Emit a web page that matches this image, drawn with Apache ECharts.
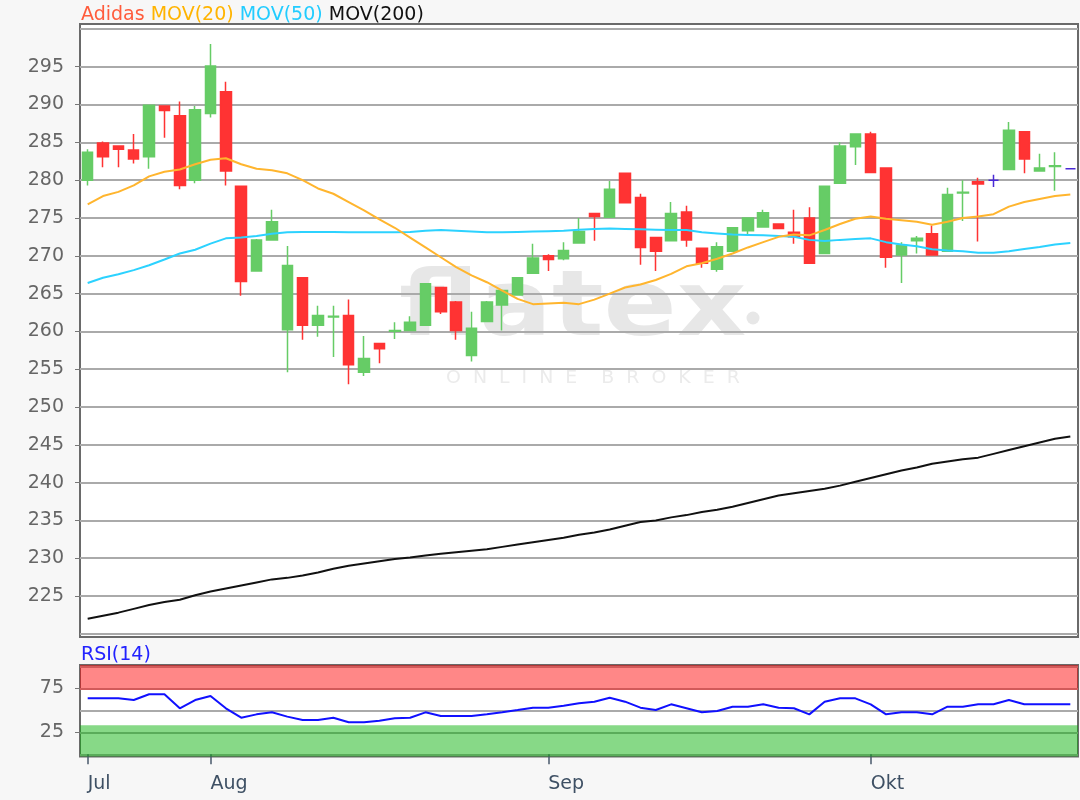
<!DOCTYPE html>
<html>
<head>
<meta charset="utf-8">
<title>Adidas</title>
<script src="https://cdn.jsdelivr.net/npm/echarts@6/dist/echarts.min.js"></script>
<style>
  html, body { margin: 0; padding: 0; background: #f7f7f7; }
  #chart { width: 1080px; height: 800px; }
</style>
</head>
<body>
<div id="chart"></div>
<script>
// trading days, 22 Jul - 18 Oct 2019
const dates = [
  '2019-07-22', '2019-07-23', '2019-07-24', '2019-07-25', '2019-07-26', '2019-07-29', '2019-07-30', '2019-07-31',
  '2019-08-01', '2019-08-02', '2019-08-05', '2019-08-06', '2019-08-07', '2019-08-08', '2019-08-09', '2019-08-12',
  '2019-08-13', '2019-08-14', '2019-08-15', '2019-08-16', '2019-08-19', '2019-08-20', '2019-08-21', '2019-08-22',
  '2019-08-23', '2019-08-26', '2019-08-27', '2019-08-28', '2019-08-29', '2019-08-30',
  '2019-09-02', '2019-09-03', '2019-09-04', '2019-09-05', '2019-09-06', '2019-09-09', '2019-09-10', '2019-09-11',
  '2019-09-12', '2019-09-13', '2019-09-16', '2019-09-17', '2019-09-18', '2019-09-19', '2019-09-20', '2019-09-23',
  '2019-09-24', '2019-09-25', '2019-09-26', '2019-09-27', '2019-09-30',
  '2019-10-01', '2019-10-02', '2019-10-03', '2019-10-04', '2019-10-07', '2019-10-08', '2019-10-09', '2019-10-10',
  '2019-10-11', '2019-10-14', '2019-10-15', '2019-10-16', '2019-10-17', '2019-10-18'
]

const opens = [
  280.0, 284.9, 284.5, 284.0, 283.1, 289.8, 288.5, 280.0, 288.8, 291.7,
  279.2, 268.0, 272.1, 260.2, 267.1, 260.8, 261.9, 262.1, 254.6, 258.4,
  260.0, 260.1, 260.8, 265.8, 263.9, 256.8, 261.3, 263.5, 264.8, 267.7,
  270.0, 269.6, 271.7, 275.6, 275.1, 280.9, 277.7, 272.4, 272.0, 275.8,
  271.0, 268.2, 270.6, 273.3, 273.8, 274.2, 273.1, 275.0, 270.3, 279.6,
  284.4, 286.1, 281.6, 270.1, 272.0, 272.9, 270.6, 278.3, 279.8, 280.0,
  281.4, 286.4, 281.2, 281.8, 281.5
]
const closes = [
  283.7, 283.1, 284.1, 282.8, 289.9, 289.2, 279.3, 289.3, 295.1, 281.2,
  266.6, 272.1, 274.5, 268.7, 260.8, 262.1, 262.0, 255.6, 256.4, 257.7,
  260.1, 261.2, 266.3, 262.6, 260.1, 260.4, 263.9, 265.4, 267.1, 269.7,
  269.5, 270.7, 273.2, 275.2, 278.8, 277.0, 271.1, 270.6, 275.6, 272.1,
  269.0, 271.2, 273.7, 275.0, 275.7, 273.6, 272.5, 269.0, 279.2, 284.5,
  286.1, 281.0, 269.8, 271.4, 272.3, 270.1, 278.1, 278.4, 279.5, 280.0,
  286.6, 282.8, 281.6, 281.9, 281.5
]
const lows = [
  279.3, 281.7, 281.7, 282.2, 281.5, 285.6, 278.8, 279.6, 288.3, 279.3,
  264.7, 267.9, 272.0, 254.6, 258.9, 259.3, 256.6, 253.0, 254.1, 255.8,
  259.0, 260.0, 260.7, 262.3, 258.9, 256.0, 261.2, 260.1, 264.7, 267.6,
  268.0, 269.4, 271.6, 272.0, 275.0, 276.9, 268.8, 268.0, 271.9, 271.2,
  268.4, 267.9, 270.5, 272.6, 273.7, 273.5, 271.6, 268.9, 270.2, 279.5,
  282.0, 280.9, 268.4, 266.4, 270.3, 270.0, 270.5, 274.6, 271.9, 279.1,
  281.3, 280.9, 281.1, 278.6, 281.5
]
const highs = [
  284.1, 285.1, 284.6, 286.1, 290.0, 289.9, 290.4, 289.8, 298.0, 293.0,
  279.3, 272.2, 276.1, 271.3, 267.2, 263.4, 263.4, 264.2, 259.4, 258.5,
  261.2, 262.0, 266.4, 265.8, 264.0, 262.6, 264.0, 265.5, 267.2, 271.6,
  270.2, 271.8, 275.0, 275.7, 279.9, 281.0, 278.2, 272.5, 277.1, 276.6,
  271.1, 271.8, 273.8, 275.1, 276.1, 274.3, 276.1, 276.4, 279.3, 285.0,
  286.2, 286.4, 281.7, 271.8, 272.6, 274.0, 279.0, 280.0, 280.3, 280.7,
  287.7, 286.5, 283.5, 283.7, 281.5
]

const mov20 = [
  276.8, 277.9, 278.45, 279.3, 280.5, 281.1, 281.4, 282.1, 282.7, 282.9,
  282.1, 281.5, 281.3, 280.9, 280.0, 278.9, 278.2, 277.1, 276.0, 274.8,
  273.7, 272.4, 271.1, 269.8, 268.5, 267.4, 266.5, 265.4, 264.3, 263.6,
  263.7, 263.8, 263.6, 264.2, 265.0, 265.8, 266.2, 266.8, 267.6, 268.6,
  269.0, 269.6, 270.3, 271.1, 271.8, 272.5, 272.8, 272.7, 273.4, 274.2,
  274.9, 275.2, 274.9, 274.7, 274.5, 274.1, 274.5, 275.0, 275.2, 275.5,
  276.5, 277.1, 277.5, 277.9, 278.1
]
const mov50 = [
  266.4, 267.1, 267.55, 268.1, 268.75, 269.5, 270.3, 270.8, 271.6, 272.3,
  272.4, 272.6, 272.9, 273.1, 273.15, 273.15, 273.15, 273.1, 273.1, 273.1,
  273.1, 273.15, 273.3, 273.4, 273.3, 273.2, 273.1, 273.1, 273.15, 273.2,
  273.25, 273.3, 273.45, 273.55, 273.6, 273.55, 273.5, 273.45, 273.4, 273.4,
  273.1, 272.95, 272.8, 272.75, 272.7, 272.6, 272.5, 272.1, 271.95, 272.1,
  272.2, 272.3, 271.8, 271.5, 271.25, 270.85, 270.7, 270.6, 270.4, 270.4,
  270.6, 270.9, 271.15, 271.5, 271.7
]
const mov200 = [
  222.0, 222.4, 222.8, 223.3, 223.8, 224.2, 224.5, 225.1, 225.6, 226.0,
  226.4, 226.8, 227.2, 227.4, 227.7, 228.1, 228.6, 229.0, 229.3, 229.6,
  229.9, 230.1, 230.35, 230.6, 230.8, 231.0, 231.2, 231.5, 231.8, 232.1,
  232.4, 232.7, 233.1, 233.4, 233.8, 234.3, 234.8, 235.0, 235.4, 235.7,
  236.1, 236.4, 236.8, 237.3, 237.8, 238.3, 238.6, 238.9, 239.2, 239.6,
  240.1, 240.6, 241.1, 241.6, 242.0, 242.5, 242.8, 243.1, 243.3, 243.8,
  244.3, 244.8, 245.3, 245.8, 246.1
]
const rsi14 = [
  63.6, 63.6, 63.6, 61.7, 68.2, 68.2, 52.3, 61.7, 66.3, 52.3,
  41.6, 45.4, 47.7, 42.8, 39.0, 39.0, 41.6, 36.4, 36.4, 38.2,
  40.9, 41.6, 47.7, 43.5, 43.5, 43.5, 45.4, 47.7, 50.3, 53.0,
  53.0, 55.2, 57.9, 59.8, 64.3, 59.8, 53.0, 50.3, 56.8, 52.3,
  47.7, 49.2, 54.1, 54.1, 56.8, 53.0, 52.3, 45.4, 59.8, 63.6,
  63.6, 56.8, 45.4, 47.7, 47.7, 45.4, 54.1, 54.1, 56.8, 56.8,
  61.7, 56.8, 56.8, 56.8, 56.8
]

const priceLabels = [225, 230, 235, 240, 245, 250, 255, 260, 265, 270, 275, 280, 285, 290, 295]
const priceLines = [220, 225, 230, 235, 240, 245, 250, 255, 260, 265, 270, 275, 280, 285, 290, 295, 300]
const rsiLabels = [25, 75]
const rsiLines = [0, 25, 50, 75, 100]
const monthNames = { '07': 'Jul', '08': 'Aug', '09': 'Sep', '10': 'Okt' }

const font = 'DejaVu Sans'
const priceMin = 219.58
const priceMax = 300.65
const rsiMin = -2.5
const rsiMax = 101.5

const candles = dates.map((d, i) => [opens[i], closes[i], lows[i], highs[i]])
const isMonthStart = (i) => i === 0 || dates[i].slice(5, 7) !== dates[i - 1].slice(5, 7)

const chart = echarts.init(document.getElementById('chart'))

const labelAxis = (grid, min, max, labels) => ({
  type: 'value',
  gridIndex: grid,
  min: min,
  max: max,
  position: 'left',
  axisLine: { show: false },
  axisTick: { show: true, length: 5, customValues: labels, lineStyle: { color: '#777' } },
  axisLabel: { customValues: labels, color: '#666', fontFamily: font, fontSize: 19, margin: 16 },
  splitLine: { show: false },
})
const lineAxis = (grid, min, max, lines) => ({
  type: 'value',
  gridIndex: grid,
  min: min,
  max: max,
  position: 'left',
  axisLine: { show: false },
  axisTick: { show: false, customValues: lines },
  axisLabel: { show: false },
  splitLine: { show: true, lineStyle: { color: '#aaa', width: 2 } },
})

const option = {
  animation: false,
  backgroundColor: '#f7f7f7',
  title: [
    {
      text: '{a|Adidas} {b|MOV(20)} {c|MOV(50)} {d|MOV(200)}',
      left: 81,
      top: 6,
      padding: 0,
      textStyle: {
        fontFamily: font,
        fontSize: 19,
        fontWeight: 'normal',
        rich: {
          a: { color: '#ff5c3c', fontFamily: font, fontSize: 19 },
          b: { color: '#ffb400', fontFamily: font, fontSize: 19 },
          c: { color: '#22ccff', fontFamily: font, fontSize: 19 },
          d: { color: '#111', fontFamily: font, fontSize: 19 },
        },
      },
    },
    {
      text: 'RSI(14)',
      left: 81,
      top: 646,
      padding: 0,
      textStyle: { fontFamily: font, fontSize: 19, fontWeight: 'normal', color: '#2222ff' },
    },
  ],
  // flatex watermark behind the plot
  graphic: [
    {
      type: 'text',
      z: -1,
      silent: true,
      x: 399,
      y: 312,
      scaleX: 1.2,
      style: {
        text: 'flatex',
        fontFamily: font,
        fontSize: 90,
        fontWeight: 'bold',
        fill: '#e7e7e7',
        verticalAlign: 'middle',
      },
    },
    {
      type: 'circle',
      z: -1,
      silent: true,
      shape: { cx: 753, cy: 318, r: 6.5 },
      style: { fill: '#e7e7e7' },
    },
    {
      type: 'text',
      z: -1,
      silent: true,
      x: 446,
      y: 378,
      scaleX: 1.05,
      style: {
        text: 'O  N  L  I  N  E    B  R  O  K  E  R',
        fontFamily: font,
        fontSize: 18,
        fill: '#ebebeb',
        verticalAlign: 'middle',
      },
    },
  ],
  grid: [
    { left: 80, right: 2, top: 24, height: 613, show: true, backgroundColor: '#fff', borderColor: '#6a6a6a', borderWidth: 2, z: -2 },
    { left: 80, right: 2, top: 665, height: 91.5, show: true, backgroundColor: '#fff', borderColor: '#6a6a6a', borderWidth: 2, z: -2 },
  ],
  xAxis: [
    {
      type: 'category',
      gridIndex: 0,
      data: dates,
      boundaryGap: true,
      axisLine: { show: false },
      axisTick: { show: false },
      axisLabel: { show: false },
      splitLine: { show: false },
    },
    {
      type: 'category',
      gridIndex: 1,
      data: dates,
      boundaryGap: true,
      axisLine: { show: false },
      axisTick: {
        show: true,
        alignWithLabel: true,
        length: 10,
        interval: (i) => isMonthStart(i),
        lineStyle: { color: '#4a5a6c', width: 1.5 },
      },
      axisLabel: {
        interval: (i) => isMonthStart(i),
        formatter: (v) => monthNames[v.slice(5, 7)],
        align: 'left',
        color: '#3e5064',
        fontFamily: font,
        fontSize: 19,
        margin: 18,
      },
      splitLine: { show: false },
    },
  ],
  yAxis: [
    labelAxis(0, priceMin, priceMax, priceLabels),
    lineAxis(0, priceMin, priceMax, priceLines),
    labelAxis(1, rsiMin, rsiMax, rsiLabels),
    lineAxis(1, rsiMin, rsiMax, rsiLines),
  ],
  series: [
    {
      name: 'Adidas',
      type: 'candlestick',
      xAxisIndex: 0,
      yAxisIndex: 0,
      barWidth: 11,
      itemStyle: {
        color: '#66cc66',
        color0: '#ff3333',
        borderColor: '#66cc66',
        borderColor0: '#ff3333',
        borderColorDoji: '#4a2ad6',
        borderWidth: 1.5,
      },
      data: candles,
    },
    {
      name: 'MOV(200)',
      type: 'line',
      xAxisIndex: 0,
      yAxisIndex: 0,
      symbol: 'none',
      lineStyle: { color: '#111', width: 2 },
      data: mov200,
    },
    {
      name: 'MOV(50)',
      type: 'line',
      xAxisIndex: 0,
      yAxisIndex: 0,
      symbol: 'none',
      lineStyle: { color: '#2cd2ff', width: 2 },
      data: mov50,
    },
    {
      name: 'MOV(20)',
      type: 'line',
      xAxisIndex: 0,
      yAxisIndex: 0,
      symbol: 'none',
      lineStyle: { color: '#ffb52e', width: 2 },
      data: mov20,
    },
    {
      name: 'RSI(14)',
      type: 'line',
      xAxisIndex: 1,
      yAxisIndex: 2,
      symbol: 'none',
      lineStyle: { color: '#1010ff', width: 2 },
      data: rsi14,
      markArea: {
        silent: true,
        data: [
          [{ yAxis: 73, itemStyle: { color: 'rgba(255,0,0,0.47)' } }, { yAxis: rsiMax }],
          [{ yAxis: rsiMin, itemStyle: { color: 'rgba(0,175,0,0.47)' } }, { yAxis: 33 }],
        ],
      },
    },
  ],
}

chart.setOption(option)
</script>
</body>
</html>
